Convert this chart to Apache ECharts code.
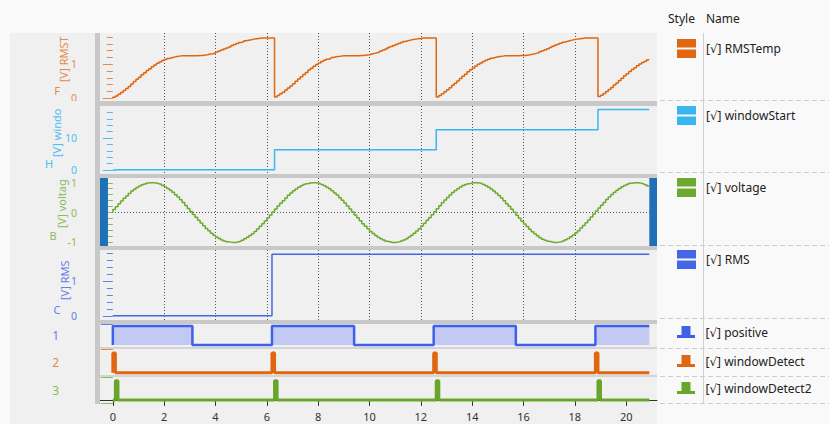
<!DOCTYPE html>
<html>
<head>
<meta charset="utf-8">
<script src="https://cdn.jsdelivr.net/npm/echarts@6/dist/echarts.min.js"></script>
<style>
  html, body { margin: 0; padding: 0; background: #f9f9f9; }
  #chart { width: 829px; height: 424px; }
</style>
</head>
<body>
<div id="chart"></div>
<script>
// sample period of the logged signals
const DT = 0.1;

// voltage, one value per sample, t = 0 .. 20.9
const voltage = [
  0.00, 0.10, 0.20, 0.30, 0.39, 0.48, 0.56, 0.64, 0.72, 0.78,
  0.84, 0.89, 0.93, 0.96, 0.99, 1.00, 1.00, 0.99, 0.97, 0.95,
  0.91, 0.86, 0.81, 0.75, 0.68, 0.60, 0.52, 0.43, 0.34, 0.24,
  0.14, 0.04, -0.06, -0.16, -0.26, -0.35, -0.44, -0.53, -0.61, -0.69,
  -0.76, -0.82, -0.87, -0.92, -0.95, -0.98, -0.99, -1.00, -1.00, -0.98,
  -0.96, -0.93, -0.88, -0.83, -0.77, -0.71, -0.63, -0.55, -0.46, -0.37,
  -0.28, -0.18, -0.08,
  0.02, 0.12, 0.22, 0.31, 0.40, 0.49, 0.58, 0.66, 0.73, 0.79,
  0.85, 0.90, 0.94, 0.97, 0.99, 1.00, 1.00, 0.99, 0.97, 0.94,
  0.90, 0.85, 0.80, 0.73, 0.66, 0.59, 0.50, 0.41, 0.32, 0.22,
  0.12, 0.02, -0.08, -0.17, -0.27, -0.37, -0.46, -0.54, -0.63, -0.70,
  -0.77, -0.83, -0.88, -0.92, -0.96, -0.98, -1.00, -1.00, -0.99, -0.98,
  -0.95, -0.92, -0.88, -0.82, -0.76, -0.69, -0.62, -0.54, -0.45, -0.36,
  -0.26, -0.17, -0.07,
  0.03, 0.13, 0.23, 0.33, 0.42, 0.51, 0.59, 0.67, 0.74, 0.80,
  0.86, 0.91, 0.94, 0.97, 0.99, 1.00, 1.00, 0.99, 0.97, 0.94,
  0.90, 0.85, 0.79, 0.72, 0.65, 0.57, 0.49, 0.40, 0.30, 0.21,
  0.11, 0.01, -0.09, -0.19, -0.29, -0.38, -0.47, -0.56, -0.64, -0.71,
  -0.78, -0.84, -0.89, -0.93, -0.96, -0.98, -1.00, -1.00, -0.99, -0.98,
  -0.95, -0.91, -0.87, -0.81, -0.75, -0.68, -0.61, -0.52, -0.43, -0.34,
  -0.25, -0.15, -0.05,
  0.05, 0.15, 0.25, 0.34, 0.44, 0.52, 0.61, 0.68, 0.75, 0.81,
  0.87, 0.91, 0.95, 0.98, 0.99, 1.00, 1.00, 0.98, 0.96, 0.93,
  0.89
];

// RMSTemp, one value per sample, t = 0 .. 20.9 (restarts with every window)
const rmsTemp = [
  0.00, 0.03, 0.07, 0.12, 0.17, 0.23, 0.29, 0.35, 0.42, 0.49,
  0.56, 0.62, 0.69, 0.75, 0.82, 0.87, 0.93, 0.98, 1.03, 1.07,
  1.11, 1.14, 1.17, 1.19, 1.21, 1.23, 1.24, 1.25, 1.25, 1.25,
  1.25, 1.25, 1.25, 1.25, 1.26, 1.26, 1.27, 1.28, 1.30, 1.31,
  1.33, 1.36, 1.39, 1.42, 1.45, 1.48, 1.51, 1.55, 1.58, 1.61,
  1.64, 1.66, 1.69, 1.71, 1.72, 1.74, 1.75, 1.76, 1.77, 1.77,
  1.77, 1.77, 1.77, 1.77,
  0.04, 0.08, 0.13, 0.18, 0.24, 0.30, 0.36, 0.43, 0.50, 0.57,
  0.63, 0.70, 0.76, 0.83, 0.88, 0.94, 0.99, 1.04, 1.08, 1.12,
  1.15, 1.17, 1.20, 1.22, 1.23, 1.24, 1.25, 1.25, 1.25, 1.25,
  1.25, 1.25, 1.25, 1.26, 1.26, 1.27, 1.28, 1.30, 1.32, 1.34,
  1.36, 1.39, 1.42, 1.45, 1.49, 1.52, 1.55, 1.58, 1.61, 1.64,
  1.67, 1.69, 1.71, 1.73, 1.74, 1.75, 1.76, 1.77, 1.77, 1.77,
  1.77, 1.77, 1.77,
  0.04, 0.08, 0.13, 0.19, 0.25, 0.31, 0.38, 0.44, 0.51, 0.58,
  0.65, 0.71, 0.78, 0.84, 0.89, 0.95, 1.00, 1.04, 1.08, 1.12,
  1.15, 1.18, 1.20, 1.22, 1.23, 1.24, 1.25, 1.25, 1.25, 1.25,
  1.25, 1.25, 1.26, 1.26, 1.26, 1.27, 1.29, 1.30, 1.32, 1.34,
  1.37, 1.40, 1.43, 1.46, 1.49, 1.53, 1.56, 1.59, 1.62, 1.65,
  1.67, 1.69, 1.71, 1.73, 1.74, 1.75, 1.76, 1.77, 1.77, 1.77,
  1.77, 1.77, 1.77,
  0.05, 0.09, 0.14, 0.20, 0.26, 0.32, 0.39, 0.45, 0.52, 0.59,
  0.66, 0.72, 0.79, 0.85, 0.90, 0.96, 1.01, 1.05, 1.09, 1.13
];

// step signals: samples around each edge (time, value)
const windowStartT = [0, 0.1, 0.2, 6.3, 6.4, 12.6, 12.7, 18.9, 19.0, 20.9];
const windowStartV = [0, 0, 0.1, 0.1, 6.3, 6.3, 12.6, 12.6, 18.9, 18.9];
const rmsT = [0, 6.2, 6.3, 20.9];
const rmsV = [0, 0, 1.77, 1.77];
const positiveT = [0, 0.1, 3.1, 3.2, 6.2, 6.3, 9.4, 9.5, 12.5, 12.6, 15.7, 15.8, 18.8, 18.9, 20.9];
const positiveV = [0, 1, 1, 0, 0, 1, 1, 0, 0, 1, 1, 0, 0, 1, 1];
const detectT = [0, 0.1, 0.2, 6.2, 6.3, 6.4, 12.5, 12.6, 12.7, 18.8, 18.9, 19.0, 20.9];
const detectV = [0, 1, 0, 0, 1, 0, 0, 1, 0, 0, 1, 0, 0];
const detect2T = [0, 0.1, 0.2, 0.3, 6.3, 6.4, 6.5, 12.6, 12.7, 12.8, 18.9, 19.0, 19.1, 20.9];
const detect2V = [0, 0, 1, 0, 0, 1, 0, 0, 1, 0, 0, 1, 0, 0];

const names = ['RMSTemp', 'windowStart', 'voltage', 'RMS', 'positive', 'windowDetect', 'windowDetect2'];
const xTicks = [0, 2, 4, 6, 8, 10, 12, 14, 16, 18, 20];
const yLabels = [[0, 1], [0, 10], [-1, 0, 1], [0, 1]];
const axisLetters = ['F', 'H', 'B', 'C'];
const axisTitles = ['[V] RMSTemp', '[V] windowStart', '[V] voltage', '[V] RMS'];

// layout
const FONT = "'Noto Sans', 'DejaVu Sans', sans-serif";
const PLOT_LEFT = 100, PLOT_RIGHT = 657;
const X_MIN = -0.5, X_MAX = 21.2;
const panels = [[33, 68], [106, 68], [178, 68], [250, 70], [324, 23], [349, 26], [377, 26]];
const yExtents = [[-0.08, 1.92], [-1.25, 19.99], [-1.12, 1.16], [-0.12, 1.89], [-0.1, 1.1], [-0.12, 1.2], [-0.16, 1.19]];
const colors = ['#e0660f', '#38b6f0', '#6ea92f', '#4566e6', '#3f60e8', '#e0660f', '#68a62b'];
const tickColors = ['#e68a48', '#4cbdf0', '#8bbb5a', '#6680e8', '#6680e8', '#e68a48', '#8bbb5a'];
const legendTops = [39, 106, 178, 250, 326, 355, 382];
const tableRules = [100.5, 172.5, 245.5, 318.5, 348.5, 376.5, 403.5];
const titlePos = [[63, 82, 50], [56, 157, 53], [61, 228, 52], [64, 300, 60]];
const letterPos = [[57, 90], [49, 163], [53, 235], [57, 309]];

const sampleTimes = voltage.map((_, i) => Math.round(i * DT * 10) / 10);
const pairs = (ts, vs) => ts.map((t, i) => [t, vs[i]]);

const grids = panels.map(p => ({
  left: PLOT_LEFT, right: 829 - PLOT_RIGHT, top: p[0], height: p[1],
  outerBoundsMode: 'none', containLabel: false
}));

const dotted = { color: '#555', type: [1, 2], width: 1 };

const xAxes = panels.map((p, i) => ({
  type: 'value', gridIndex: i, min: X_MIN, max: X_MAX, splitNumber: 10,
  offset: i === 6 ? 1 : 0,
  axisLine: { show: i === 6, lineStyle: { color: '#333' } },
  axisTick: { show: i === 6, length: 6, customValues: xTicks, lineStyle: { color: '#333' } },
  axisLabel: { show: i === 6, customValues: xTicks, margin: 7, color: '#333', fontSize: 11, fontFamily: FONT },
  splitLine: { show: i < 4, showMinLine: false, showMaxLine: false, lineStyle: dotted }
}));

const yAxes = panels.map((p, i) => {
  const lined = i < 4;
  const ax = {
    type: 'value', gridIndex: i, min: yExtents[i][0], max: yExtents[i][1],
    splitNumber: 2, offset: 5, position: 'left',
    axisLine: { show: false },
    axisTick: {
      show: true, length: lined ? 10 : 12,
      customValues: lined ? yLabels[i] : yExtents[i],
      lineStyle: { color: tickColors[i] }
    },
    minorTick: { show: lined, splitNumber: 5, length: 6, lineStyle: { color: tickColors[i] } },
    axisLabel: lined
      ? { customValues: yLabels[i], margin: 18, color: tickColors[i], fontSize: 10.5, lineHeight: 11, fontFamily: FONT }
      : { show: false },
    splitLine: { show: lined, showMinLine: false, showMaxLine: false, lineStyle: dotted }
  };
  if (!lined) {
    ax.name = String(i - 3);
    ax.nameLocation = 'middle';
    ax.nameGap = 36;
    ax.nameRotate = 0;
    ax.nameTextStyle = { color: tickColors[i], fontSize: 12, fontFamily: FONT };
  }
  return ax;
});

function stepLine(i, data, width, extra) {
  return Object.assign({
    name: names[i], type: 'line', xAxisIndex: i, yAxisIndex: i, data: data,
    step: 'start', symbol: 'none', showSymbol: false, color: colors[i],
    lineStyle: { width: width, color: colors[i] }, z: 3
  }, extra || {});
}

const series = [
  stepLine(0, sampleTimes.map((t, k) => [t, rmsTemp[k]]), 1.5),
  stepLine(1, pairs(windowStartT, windowStartV), 1.5),
  stepLine(2, sampleTimes.map((t, k) => [t, voltage[k]]), 1.5, {
    markArea: {
      silent: true,
      itemStyle: { color: '#1f70b6', opacity: 1 },
      data: [[{ xAxis: X_MIN }, { xAxis: -0.19 }], [{ xAxis: 20.9 }, { xAxis: X_MAX }]]
    }
  }),
  stepLine(3, pairs(rmsT, rmsV), 1.5),
  stepLine(4, pairs(positiveT, positiveV), 2.5, { areaStyle: { color: '#c2caf4', opacity: 1 } }),
  stepLine(5, pairs(detectT, detectV), 3),
  stepLine(6, pairs(detect2T, detect2V), 3)
];

const twinIcon = 'path://M0,0H19V8.6H0Z M0,10.4H19V19H0Z';
const pulseIcon = 'path://M4.5,0H13.5V9H18V12H0V9H4.5Z';

const legends = names.map((n, i) => ({
  data: [n], left: 677, top: legendTops[i], orient: 'vertical', padding: 0,
  itemWidth: 19, itemHeight: i < 4 ? 19 : 12,
  icon: i < 4 ? twinIcon : pulseIcon,
  selectedMode: false,
  formatter: '[\u221A] {name}',
  itemStyle: { color: colors[i], borderWidth: 0 },
  textStyle: { fontSize: 12, color: '#222', fontFamily: FONT, padding: [0, 0, 0, 5] }
}));

const graphics = [];
// grey backdrop behind axes and plots
graphics.push({ type: 'rect', z: -10, silent: true,
  shape: { x: 10, y: 33, width: PLOT_RIGHT - 10, height: 424 - 33 }, style: { fill: '#f0f0f0' } });
// separators between the panels; the label column is clipped at the same rows
for (let i = 0; i < panels.length - 1; i++) {
  const y0 = panels[i][0] + panels[i][1], y1 = panels[i + 1][0];
  graphics.push({ type: 'rect', z: 100, silent: true,
    shape: { x: 95, y: y0, width: PLOT_RIGHT - 95, height: y1 - y0 },
    style: { fill: y1 - y0 > 2 ? '#c8c8c8' : '#d4d4d4' } });
  if (i < 4) {
    graphics.push({ type: 'rect', z: 100, silent: true,
      shape: { x: 60, y: y0, width: 24, height: y1 - y0 }, style: { fill: '#f0f0f0' } });
  }
}
graphics.push({ type: 'rect', z: 100, silent: true,
  shape: { x: 95, y: 33, width: 5, height: 371 }, style: { fill: '#c8c8c8' } });
// axis titles, reading upwards, clipped to their panel
axisTitles.forEach((txt, i) => {
  graphics.push({ type: 'text', z: 101, silent: true, x: titlePos[i][0], y: titlePos[i][1], rotation: Math.PI / 2,
    style: { text: txt, fill: tickColors[i], font: '11px ' + FONT, align: 'left', verticalAlign: 'middle',
      width: titlePos[i][2], overflow: 'truncate', ellipsis: '' } });
  graphics.push({ type: 'text', z: 101, silent: true, x: letterPos[i][0], y: letterPos[i][1],
    style: { text: axisLetters[i], fill: tickColors[i], font: '11px ' + FONT, align: 'center', verticalAlign: 'middle' } });
});
// legend table frame
graphics.push({ type: 'text', z: 100, silent: true, x: 668, y: 18,
  style: { text: 'Style', fill: '#222', font: '12px ' + FONT, align: 'left', verticalAlign: 'middle' } });
graphics.push({ type: 'text', z: 100, silent: true, x: 706, y: 18,
  style: { text: 'Name', fill: '#222', font: '12px ' + FONT, align: 'left', verticalAlign: 'middle' } });
graphics.push({ type: 'line', z: 100, silent: true, shape: { x1: 703.5, y1: 33, x2: 703.5, y2: 403 },
  style: { stroke: '#cfcfcf', lineWidth: 1 } });
tableRules.forEach(y => {
  graphics.push({ type: 'line', z: 100, silent: true, shape: { x1: 660, y1: y, x2: 829, y2: y },
    style: { stroke: '#cccccc', lineWidth: 1, lineDash: [5, 3] } });
});

const chart = echarts.init(document.getElementById('chart'), null, { renderer: 'svg' });
chart.setOption({
  animation: false,
  backgroundColor: '#f9f9f9',
  textStyle: { fontFamily: FONT },
  grid: grids,
  xAxis: xAxes,
  yAxis: yAxes,
  legend: legends,
  series: series,
  graphic: { elements: graphics }
});
</script>
</body>
</html>
